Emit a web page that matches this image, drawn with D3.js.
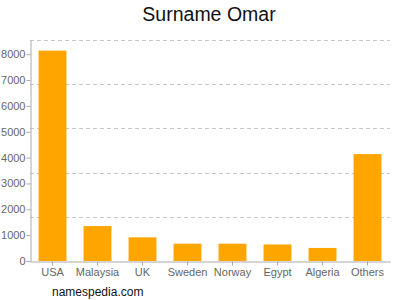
<!DOCTYPE html>
<html><head><meta charset="utf-8">
<script src="https://cdn.jsdelivr.net/npm/d3@7"></script>
<style>body{margin:0;background:#fff}svg{display:block}text{font-family:"Liberation Sans",Arial,sans-serif}</style>
</head><body><svg id="c" width="400" height="300"></svg>
<script>
const categories = ["USA","Malaysia","UK","Sweden","Norway","Egypt","Algeria","Others"];
const values = [8140, 1350, 915, 670, 670, 640, 505, 4135];
const yTicks = [0,1000,2000,3000,4000,5000,6000,7000,8000];
const yMax = 8550;

const svg = d3.select("#c");
const m = {l:30, r:10, t:40, b:39};
const W = 400, H = 300;
const x = d3.scaleBand().domain(categories).range([m.l, W-m.r]).paddingInner(0.38).paddingOuter(0.19);
const y = d3.scaleLinear().domain([0, yMax]).range([H-m.b, m.t]);

// grid lines: 5 equal divisions
const grid = d3.range(1,6).map(i => yMax*i/5);
svg.append("g").selectAll("line").data(grid).join("line")
  .attr("x1", m.l).attr("x2", W-m.r)
  .attr("y1", d=>Math.round(y(d))+0.5).attr("y2", d=>Math.round(y(d))+0.5)
  .attr("stroke","#c8c8c8").attr("stroke-dasharray","4,3");

svg.append("g").selectAll("rect").data(categories).join("rect")
  .attr("x", d=>x(d)).attr("width", x.bandwidth())
  .attr("y", (d,i)=>y(values[i])).attr("height", (d,i)=>y(0)-y(values[i]))
  .attr("fill","#ffa500");

const ya = svg.append("g").attr("transform",`translate(${m.l+0.5},0)`)
  .call(d3.axisLeft(y).tickValues(yTicks).tickFormat(d3.format("d")).tickSize(4).tickPadding(1).tickSizeOuter(0));
ya.select(".domain").attr("stroke","#aaa");
ya.selectAll(".tick line").attr("stroke","#aaa");
ya.selectAll(".tick text").attr("fill","#666").style("font-size","11px");

const xa = svg.append("g").attr("transform",`translate(0,${H-m.b+0.5})`)
  .call(d3.axisBottom(x).tickSize(4).tickPadding(3).tickSizeOuter(0));
xa.select(".domain").attr("stroke","#aaa");
xa.selectAll(".tick line").attr("stroke","#aaa");
xa.selectAll(".tick text").attr("fill","#666").style("font-size","11px");

svg.append("text").attr("x",209).attr("y",21).attr("text-anchor","middle")
  .style("font-size","19.5px").attr("fill","#111").text("Surname Omar");
svg.append("text").attr("x",52).attr("y",296).style("font-size","12px").attr("fill","#111").text("namespedia.com");
</script></body></html>
